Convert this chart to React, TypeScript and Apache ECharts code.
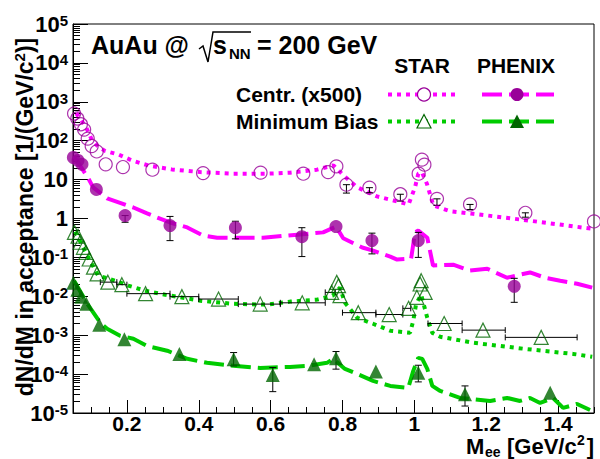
import React, { useEffect, useRef } from 'react';
import * as echarts from 'echarts';

const FONT = '"Liberation Sans", Arial, Helvetica, sans-serif';

// STAR, central (x500), measured points
const starCentX = [0.053, 0.062, 0.072, 0.081, 0.091, 0.102, 0.116, 0.141, 0.189, 0.271, 0.412, 0.572, 0.691, 0.760, 0.783, 0.811, 0.875, 0.961, 1.012, 1.021, 1.028, 1.063, 1.155, 1.309, 1.5];
const starCentY = [499, 372, 265, 193, 113, 73, 53, 24.7, 21, 18, 14.7, 15.1, 14.2, 15.6, 21.9, 7.4, 6.2, 4.2, 14.2, 32.6, 24.2, 3.2, 2.3, 1.4, 0.84];
// STAR central errors [x, low, high]
const starCentErr = [[0.811, 4.5, 7.4], [0.875, 4.6, 6.2], [0.961, 2.8, 4.2], [1.063, 2.16, 3.2], [1.155, 1.7, 2.3], [1.309, 1.08, 1.4]];
// STAR central cocktail
const starCentLineX = [0.059, 0.086, 0.103, 0.121, 0.140, 0.177, 0.214, 0.260, 0.325, 0.404, 0.497, 0.590, 0.654, 0.729, 0.775, 0.803, 0.840, 0.896, 0.942, 0.984, 1.002, 1.011, 1.021, 1.035, 1.053, 1.100, 1.164, 1.304, 1.498];
const starCentLineY = [508, 225, 102, 69, 54, 44, 31, 23, 18.3, 15.6, 14.2, 14.2, 15.1, 18, 23.2, 12.8, 6.4, 3.7, 2.9, 2.3, 6.4, 14.2, 15.6, 7.8, 2.16, 1.54, 1.32, 0.92, 0.54];

// PHENIX central
const phxCentX = [0.051, 0.064, 0.075, 0.115, 0.195, 0.320, 0.502, 0.687, 0.782, 0.882, 1.011, 1.278];
const phxCentY = [37, 31, 24.7, 5.6, 1.19, 0.66, 0.58, 0.34, 0.62, 0.27, 0.27, 0.018];
const phxCentErr = [[0.195, 0.80, 1.19], [0.320, 0.27, 1.13], [0.502, 0.30, 0.85], [0.687, 0.105, 0.58], [0.882, 0.123, 0.42], [1.011, 0.10, 0.44], [1.278, 0.007, 0.029]];
const phxCentLineX = [0.053, 0.092, 0.106, 0.145, 0.201, 0.218, 0.256, 0.284, 0.320, 0.368, 0.412, 0.451, 0.579, 0.682, 0.746, 0.782, 0.802, 0.855, 0.885, 0.933, 0.952, 0.991, 1.002, 1.011, 1.036, 1.052, 1.108, 1.155, 1.203, 1.258, 1.294, 1.322, 1.364, 1.406, 1.453, 1.495];
const phxCentLineY = [39.6, 11.0, 6.3, 3.3, 2.16, 1.92, 1.35, 1.06, 0.79, 0.59, 0.365, 0.32, 0.32, 0.39, 0.44, 0.62, 0.31, 0.18, 0.15, 0.105, 0.088, 0.093, 0.44, 0.49, 0.32, 0.062, 0.065, 0.046, 0.051, 0.030, 0.036, 0.041, 0.030, 0.025, 0.021, 0.0167];

// STAR minimum bias
const starMbX = [0.054, 0.064, 0.070, 0.079, 0.086, 0.095, 0.107, 0.117, 0.147, 0.186, 0.252, 0.353, 0.455, 0.571, 0.688, 0.770, 0.784, 0.789, 0.793, 0.844, 0.930, 0.984, 1.007, 1.016, 1.019, 1.030, 1.083, 1.191, 1.353];
const starMbY = [0.44, 0.35, 0.245, 0.182, 0.135, 0.091, 0.056, 0.0376, 0.0231, 0.0199, 0.0117, 0.0098, 0.0085, 0.0063, 0.0068, 0.0126, 0.0228, 0.0188, 0.0104, 0.0038, 0.0034, 0.0049, 0.0094, 0.0207, 0.0252, 0.0126, 0.0020, 0.00135, 0.00088];
// STAR MB bin widths [xLow, xHigh, y]
const starMbBins = [[0.126, 0.172, 0.0231], [0.172, 0.2, 0.0199], [0.2, 0.32, 0.0117], [0.32, 0.4, 0.0098], [0.4, 0.51, 0.0085], [0.51, 0.627, 0.0063], [0.627, 0.752, 0.0068], [0.752, 0.78, 0.0126], [0.8, 0.893, 0.0038], [0.893, 0.968, 0.0034], [0.968, 0.99, 0.0049], [1.038, 1.133, 0.0020], [1.133, 1.253, 0.00135], [1.253, 1.453, 0.00088]];
const starMbLineX = [0.056, 0.087, 0.120, 0.167, 0.204, 0.251, 0.307, 0.404, 0.496, 0.590, 0.654, 0.729, 0.773, 0.793, 0.807, 0.841, 0.885, 0.933, 0.988, 0.997, 1.005, 1.019, 1.036, 1.050, 1.072, 1.164, 1.303, 1.442, 1.495];
const starMbLineY = [0.46, 0.125, 0.034, 0.0252, 0.0188, 0.0139, 0.011, 0.0077, 0.0064, 0.0061, 0.0073, 0.0082, 0.0104, 0.0167, 0.0068, 0.0028, 0.00197, 0.0013, 0.00115, 0.00235, 0.0064, 0.011, 0.0028, 0.00115, 0.00091, 0.00064, 0.00045, 0.00033, 0.00028];

// PHENIX minimum bias
const phxMbX = [0.051, 0.062, 0.073, 0.087, 0.123, 0.193, 0.346, 0.497, 0.606, 0.721, 0.782, 0.893, 1.011, 1.141, 1.378];
const phxMbY = [0.0224, 0.0148, 0.0098, 0.0064, 0.00185, 0.00079, 0.00033, 0.000242, 0.0000953, 0.00018, 0.000257, 0.000116, 0.000109, 0.0000303, 0.0000334];
const phxMbErr = [[0.497, 0.000163, 0.000358], [0.606, 0.0000354, 0.000147], [0.782, 0.000134, 0.00038], [1.011, 0.000063, 0.000169], [1.141, 0.0000151, 0.0000497]];
const phxMbLineX = [0.053, 0.090, 0.126, 0.145, 0.181, 0.218, 0.256, 0.312, 0.368, 0.423, 0.496, 0.571, 0.654, 0.702, 0.757, 0.774, 0.807, 0.841, 0.885, 0.933, 0.983, 0.997, 1.011, 1.022, 1.036, 1.050, 1.072, 1.127, 1.211, 1.258, 1.294, 1.322, 1.350, 1.386, 1.414, 1.453, 1.489];
const phxMbLineY = [0.0252, 0.0064, 0.0021, 0.00146, 0.00097, 0.00081, 0.00053, 0.0004, 0.000247, 0.000195, 0.000163, 0.000144, 0.000153, 0.000163, 0.000195, 0.000247, 0.000136, 0.000101, 0.0000668, 0.0000497, 0.000044, 0.000121, 0.000262, 0.000247, 0.000136, 0.0000497, 0.0000369, 0.0000244, 0.0000204, 0.0000244, 0.0000204, 0.0000244, 0.0000181, 0.0000244, 0.0000135, 0.0000171, 0.0000119];

// axis ticks
const xMajor = [0.2, 0.4, 0.6, 0.8, 1.0, 1.2, 1.4];
const xMinor = [0.05, 0.1, 0.15, 0.25, 0.3, 0.35, 0.45, 0.5, 0.55, 0.65, 0.7, 0.75, 0.85, 0.9, 0.95, 1.05, 1.1, 1.15, 1.25, 1.3, 1.35, 1.45, 1.5];
const yMajor = [1e-5, 1e-4, 1e-3, 1e-2, 1e-1, 1, 10, 100, 1e3, 1e4, 1e5];
const yMinor: number[] = [];
for (let e = -5; e < 5; e++) for (let k = 2; k <= 9; k++) yMinor.push(k * Math.pow(10, e));

const MAG = '#ff00ff';
const PURPLE = '#990099';
const GREEN = '#00cc00';
const DKGREEN = '#006600';
const DOT = [4, 5];
const DASH = [20, 7];

const zip = (xs: number[], ys: number[]) => xs.map((x, i) => [x, ys[i]]);

const vErr = (params: any, api: any) => {
  const x = api.value(0);
  const p1 = api.coord([x, api.value(1)]);
  const p2 = api.coord([x, api.value(2)]);
  const w = 3.5;
  const style = { stroke: '#000', lineWidth: 1 };
  return {
    type: 'group',
    children: [
      { type: 'line', shape: { x1: p1[0], y1: p1[1], x2: p2[0], y2: p2[1] }, style },
      { type: 'line', shape: { x1: p1[0] - w, y1: p1[1], x2: p1[0] + w, y2: p1[1] }, style },
      { type: 'line', shape: { x1: p2[0] - w, y1: p2[1], x2: p2[0] + w, y2: p2[1] }, style },
    ],
  };
};
const hErr = (params: any, api: any) => {
  const y = api.value(2);
  const p1 = api.coord([api.value(0), y]);
  const p2 = api.coord([api.value(1), y]);
  const h = 3;
  const style = { stroke: '#000', lineWidth: 1 };
  return {
    type: 'group',
    children: [
      { type: 'line', shape: { x1: p1[0], y1: p1[1], x2: p2[0], y2: p2[1] }, style },
      { type: 'line', shape: { x1: p1[0], y1: p1[1] - h, x2: p1[0], y2: p1[1] + h }, style },
      { type: 'line', shape: { x1: p2[0], y1: p2[1] - h, x2: p2[0], y2: p2[1] + h }, style },
    ],
  };
};

export default function App() {
  const ref = useRef<HTMLDivElement>(null);
  useEffect(() => {
    if (!ref.current) return;
    const chart = echarts.init(ref.current, null, { renderer: 'svg' });
    const bold = (size: number) => `bold ${size}px ${FONT}`;
    const legendY1 = 94.5;
    const legendY2 = 121.5;
    const option: any = {
      animation: false,
      backgroundColor: '#fff',
      textStyle: { fontFamily: FONT },
      grid: { left: 73, right: 6, top: 24, bottom: 46, show: true, borderColor: '#000', borderWidth: 1, outerBoundsMode: 'none' },
      xAxis: [
        {
          type: 'value', min: 0.05, max: 1.5, position: 'bottom',
          axisLine: { show: true, lineStyle: { color: '#000', width: 1 } },
          axisTick: { show: true, inside: true, length: 13, customValues: xMajor, lineStyle: { color: '#000' } },
          axisLabel: {
            customValues: xMajor, margin: 1, color: '#000', fontSize: 21, fontWeight: 'bold', fontFamily: FONT, lineHeight: 18,
            formatter: (v: number) => String(Math.round(v * 10) / 10),
          },
          splitLine: { show: false },
        },
        {
          type: 'value', min: 0.05, max: 1.5, position: 'bottom',
          axisLine: { show: false },
          axisTick: { show: true, inside: true, length: 6, customValues: xMinor, lineStyle: { color: '#000' } },
          axisLabel: { show: false },
          splitLine: { show: false },
        },
      ],
      yAxis: [
        {
          type: 'log', min: 1e-5, max: 1e5, position: 'left',
          axisLine: { show: true, lineStyle: { color: '#000', width: 1 } },
          axisTick: { show: true, inside: true, length: 15, customValues: yMajor, lineStyle: { color: '#000' } },
          axisLabel: {
            customValues: yMajor, margin: 5, color: '#000', fontFamily: FONT,
            formatter: (v: number) => {
              const e = Math.round(Math.log10(v));
              if (e === 0) return '{b|1}';
              if (e === 1) return '{b|10}';
              return '{b|10}{s|' + e + '}';
            },
            rich: {
              b: { fontSize: 22, fontWeight: 'bold', color: '#000', fontFamily: FONT, lineHeight: 22, verticalAlign: 'bottom' },
              s: { fontSize: 15, fontWeight: 'bold', color: '#000', fontFamily: FONT, lineHeight: 15, verticalAlign: 'top', padding: [0, 0, 12, 0] },
            },
          },
          splitLine: { show: false },
        },
        {
          type: 'log', min: 1e-5, max: 1e5, position: 'left',
          axisLine: { show: false },
          axisTick: { show: true, inside: true, length: 7, customValues: yMinor, lineStyle: { color: '#000' } },
          axisLabel: { show: false },
          splitLine: { show: false },
        },
      ],
      series: [
        { type: 'line', data: zip(starCentLineX, starCentLineY), showSymbol: false, z: 2, lineStyle: { color: MAG, width: 4, type: DOT, cap: 'butt' } },
        { type: 'line', data: zip(phxCentLineX, phxCentLineY), showSymbol: false, z: 2, lineStyle: { color: MAG, width: 4, type: DASH, cap: 'butt' } },
        { type: 'line', data: zip(starMbLineX, starMbLineY), showSymbol: false, z: 2, lineStyle: { color: GREEN, width: 4, type: DOT, cap: 'butt' } },
        { type: 'line', data: zip(phxMbLineX, phxMbLineY), showSymbol: false, z: 2, lineStyle: { color: GREEN, width: 4, type: DASH, cap: 'butt' } },
        { type: 'custom', renderItem: vErr, data: starCentErr, encode: { x: 0, y: [1, 2] }, z: 3, silent: true },
        { type: 'custom', renderItem: vErr, data: phxCentErr, encode: { x: 0, y: [1, 2] }, z: 3, silent: true },
        { type: 'custom', renderItem: vErr, data: phxMbErr, encode: { x: 0, y: [1, 2] }, z: 3, silent: true },
        { type: 'custom', renderItem: hErr, data: starMbBins, encode: { x: [0, 1], y: 2 }, z: 3, silent: true },
        { type: 'scatter', data: zip(starCentX, starCentY), symbol: 'circle', symbolSize: 13, z: 4, itemStyle: { color: 'rgba(0,0,0,0)', borderColor: PURPLE, borderWidth: 1.2 } },
        { type: 'scatter', data: zip(phxCentX, phxCentY), symbol: 'circle', symbolSize: 13, z: 4, itemStyle: { color: PURPLE } },
        { type: 'scatter', data: zip(starMbX, starMbY), symbol: 'triangle', symbolSize: 14, z: 4, itemStyle: { color: 'rgba(0,0,0,0)', borderColor: DKGREEN, borderWidth: 1.2 } },
        { type: 'scatter', data: zip(phxMbX, phxMbY), symbol: 'triangle', symbolSize: 14, z: 4, itemStyle: { color: DKGREEN } },
      ],
      graphic: [
        // y title
        {
          type: 'text', x: 24, y: 217, rotation: Math.PI / 2,
          style: {
            text: '{m|dN/dM in acceptance [1/(GeV/c}{s|2}{m|)]}',
            align: 'center', verticalAlign: 'middle',
            rich: {
              m: { font: bold(23), fill: '#000', lineHeight: 24, verticalAlign: 'bottom' },
              s: { font: bold(15), fill: '#000', lineHeight: 15, verticalAlign: 'top', padding: [0, 0, 12, 0] },
            },
          },
        },
        // x title
        { type: 'text', x: 466, y: 457, style: { text: 'M', font: bold(22), fill: '#000', verticalAlign: 'bottom' } },
        { type: 'text', x: 485, y: 459, style: { text: 'ee', font: bold(14), fill: '#000', verticalAlign: 'bottom' } },
        { type: 'text', x: 507, y: 457, style: { text: '[GeV/c', font: bold(22), fill: '#000', verticalAlign: 'bottom' } },
        { type: 'text', x: 577, y: 447, style: { text: '2', font: bold(14), fill: '#000', verticalAlign: 'bottom' } },
        { type: 'text', x: 594, y: 457, style: { text: ']', font: bold(22), fill: '#000', align: 'right', verticalAlign: 'bottom' } },
        // title
        { type: 'text', x: 91, y: 45, style: { text: 'AuAu @', font: bold(25), fill: '#000', verticalAlign: 'middle' } },
        { type: 'polyline', shape: { points: [[199, 49], [203, 46], [208, 62], [213, 32], [251, 32]] }, style: { stroke: '#000', lineWidth: 1.5, fill: null } },
        { type: 'text', x: 213, y: 45, style: { text: 's', font: bold(25), fill: '#000', verticalAlign: 'middle' } },
        { type: 'text', x: 229, y: 53, style: { text: 'NN', font: bold(15), fill: '#000', verticalAlign: 'middle' } },
        { type: 'text', x: 257, y: 45, style: { text: '= 200 GeV', font: bold(25), fill: '#000', verticalAlign: 'middle' } },
        // legend
        { type: 'text', x: 422, y: 65.5, style: { text: 'STAR', font: bold(21), fill: '#000', align: 'center', verticalAlign: 'middle' } },
        { type: 'text', x: 516, y: 65.5, style: { text: 'PHENIX', font: bold(21), fill: '#000', align: 'center', verticalAlign: 'middle' } },
        { type: 'text', x: 236, y: legendY1, style: { text: 'Centr. (x500)', font: bold(21), fill: '#000', verticalAlign: 'middle' } },
        { type: 'text', x: 236, y: legendY2, style: { text: 'Minimum Bias', font: bold(21), fill: '#000', verticalAlign: 'middle' } },
        { type: 'line', shape: { x1: 388, y1: legendY1, x2: 460, y2: legendY1 }, style: { stroke: MAG, lineWidth: 4, lineDash: DOT } },
        { type: 'circle', shape: { cx: 424, cy: legendY1, r: 6.5 }, style: { stroke: PURPLE, lineWidth: 1.2, fill: '#fff' } },
        { type: 'line', shape: { x1: 482, y1: legendY1, x2: 554, y2: legendY1 }, style: { stroke: MAG, lineWidth: 4, lineDash: DASH } },
        { type: 'circle', shape: { cx: 517, cy: legendY1, r: 6.5 }, style: { fill: PURPLE } },
        { type: 'line', shape: { x1: 388, y1: legendY2, x2: 460, y2: legendY2 }, style: { stroke: GREEN, lineWidth: 4, lineDash: DOT } },
        { type: 'polygon', shape: { points: [[424, 114.5], [431, 128], [417, 128]] }, style: { stroke: DKGREEN, lineWidth: 1.2, fill: '#fff' } },
        { type: 'line', shape: { x1: 482, y1: legendY2, x2: 554, y2: legendY2 }, style: { stroke: GREEN, lineWidth: 4, lineDash: DASH } },
        { type: 'polygon', shape: { points: [[517, 114.5], [524, 128], [510, 128]] }, style: { fill: DKGREEN } },
      ],
    };
    chart.setOption(option);
    return () => chart.dispose();
  }, []);
  return <div ref={ref} style={{ position: 'fixed', left: 0, top: 0, width: 600, height: 459, background: '#fff' }} />;
}
